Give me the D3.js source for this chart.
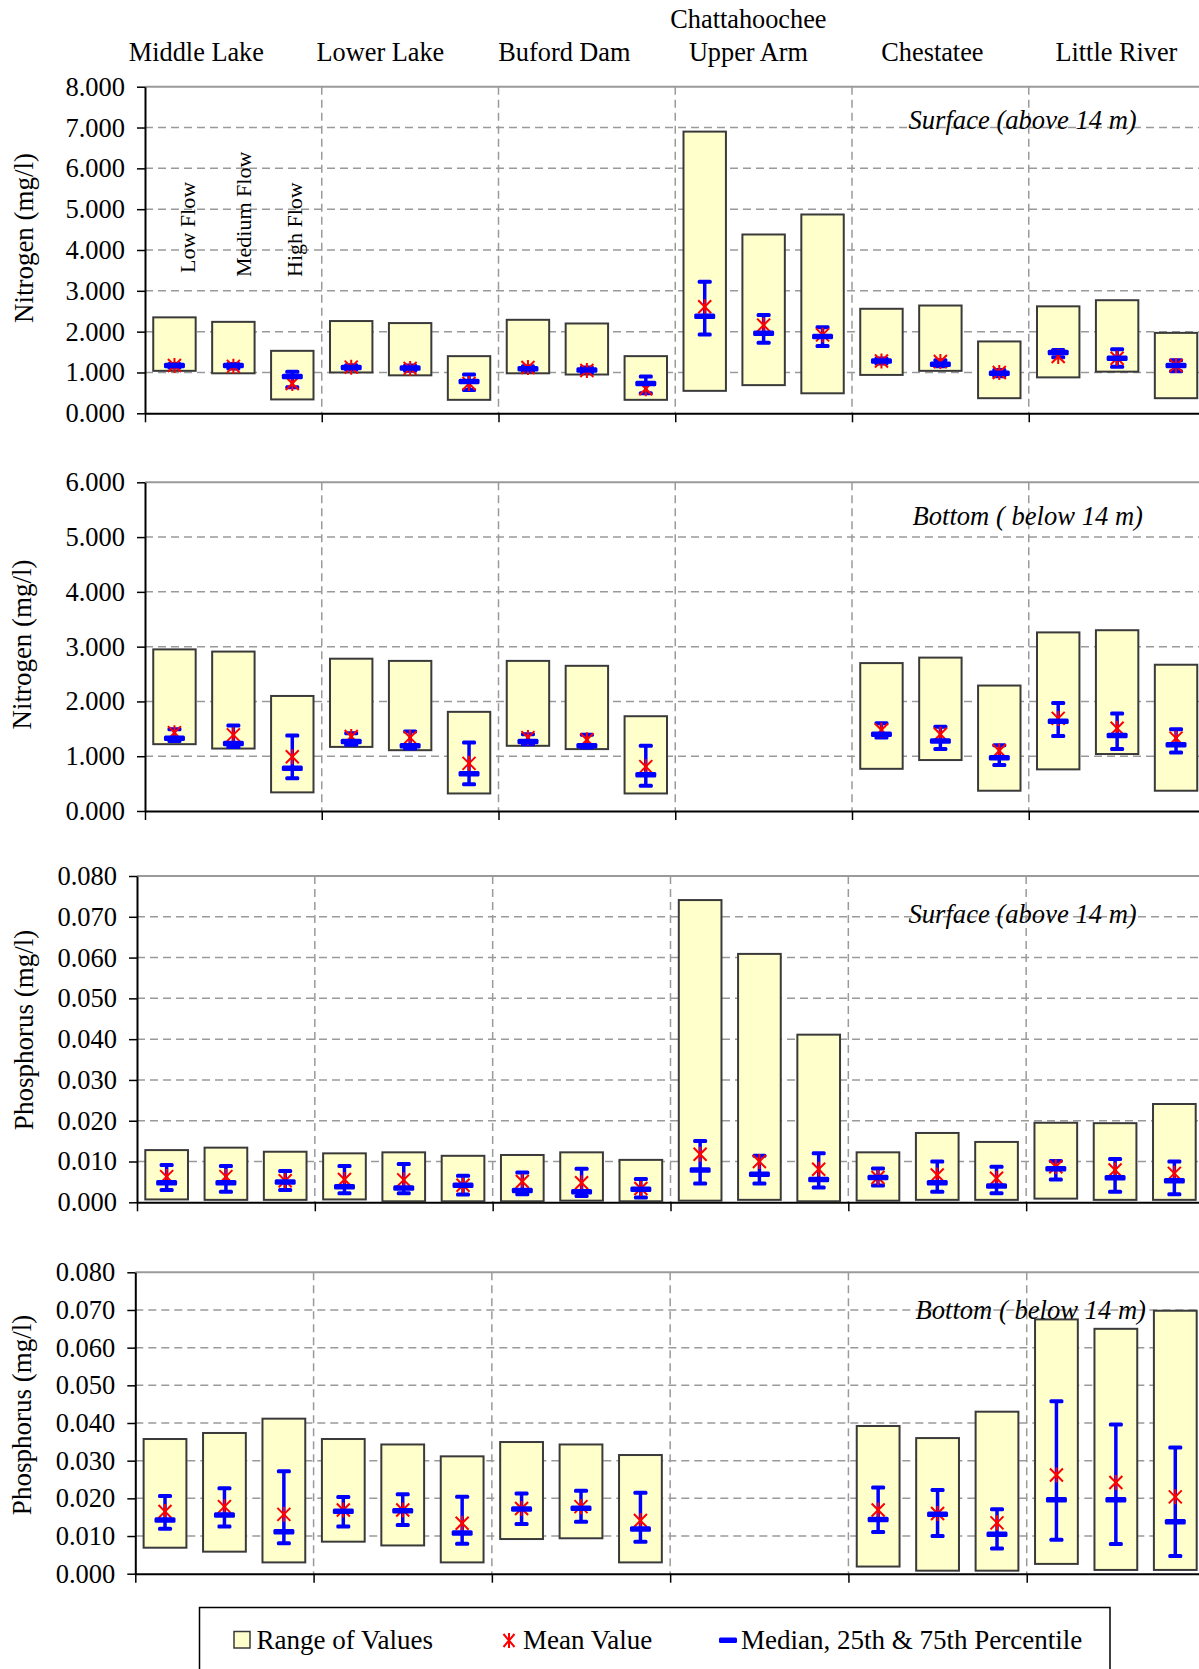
<!DOCTYPE html>
<html>
<head>
<meta charset="utf-8">
<script src="https://cdn.jsdelivr.net/npm/d3@7"></script>
<style>
  html, body { margin: 0; padding: 0; background: #fff; }
  svg { display: block; }
  text { font-family: "Liberation Serif", "Times New Roman", serif; fill: #000; }
</style>
</head>
<body>
<svg id="chart" width="1199" height="1669"></svg>
<script>
// Sampling sites and flow regimes (three bars per site)
const sites = ["Middle Lake", "Lower Lake", "Buford Dam", "Chattahoochee Upper Arm", "Chestatee", "Little River"];
const siteLabelLines = [["Middle Lake"], ["Lower Lake"], ["Buford Dam"], ["Chattahoochee", "Upper Arm"], ["Chestatee"], ["Little River"]];
const flows = ["Low Flow", "Medium Flow", "High Flow"];

// Y tick values
const nitrogenSurfaceTicks = [0, 1, 2, 3, 4, 5, 6, 7, 8];
const nitrogenBottomTicks = [0, 1, 2, 3, 4, 5, 6];
const phosphorusTicks = [0, 0.01, 0.02, 0.03, 0.04, 0.05, 0.06, 0.07, 0.08];

// Nitrogen, surface (mg/l) — order: site by site, Low / Medium / High flow
const nSurfMin    = [1.04, 0.98, 0.34, 1.00, 0.93, 0.33, 0.98, 0.95, 0.33, 0.55, 0.69, 0.49, 0.94, 1.04, 0.37, 0.88, 1.02, 0.37];
const nSurfMax    = [2.35, 2.24, 1.53, 2.26, 2.21, 1.40, 2.29, 2.20, 1.40, 6.90, 4.38, 4.87, 2.56, 2.64, 1.76, 2.62, 2.77, 1.97];
const nSurfP25    = [1.12, 1.10, 0.64, 1.07, 1.04, 0.57, 1.04, 1.00, 0.49, 1.93, 1.73, 1.65, 1.22, 1.15, 0.91, 1.37, 1.14, 1.03];
const nSurfMedian = [1.17, 1.17, 0.90, 1.12, 1.11, 0.78, 1.09, 1.06, 0.73, 2.38, 1.96, 1.88, 1.28, 1.20, 0.98, 1.49, 1.35, 1.17];
const nSurfP75    = [1.21, 1.21, 1.02, 1.18, 1.17, 0.95, 1.15, 1.12, 0.90, 3.22, 2.41, 2.11, 1.34, 1.30, 1.06, 1.55, 1.57, 1.30];
const nSurfMean   = [1.17, 1.15, 0.73, 1.13, 1.10, 0.73, 1.12, 1.05, 0.60, 2.61, 2.16, 1.92, 1.28, 1.27, 1.00, 1.39, 1.35, 1.17];

// Nitrogen, bottom (mg/l) — no bottom samples in the Chattahoochee upper arm
const nBotMin    = [1.22, 1.14, 0.34, 1.17, 1.11, 0.32, 1.19, 1.13, 0.32, null, null, null, 0.77, 0.93, 0.37, 0.76, 1.04, 0.37];
const nBotMax    = [2.95, 2.91, 2.10, 2.78, 2.74, 1.81, 2.74, 2.65, 1.73, null, null, null, 2.70, 2.80, 2.29, 3.26, 3.30, 2.67];
const nBotP25    = [1.28, 1.17, 0.60, 1.21, 1.14, 0.49, 1.22, 1.16, 0.46, null, null, null, 1.34, 1.13, 0.84, 1.37, 1.13, 1.07];
const nBotMedian = [1.33, 1.23, 0.78, 1.27, 1.19, 0.68, 1.27, 1.19, 0.66, null, null, null, 1.40, 1.28, 0.97, 1.64, 1.38, 1.21];
const nBotP75    = [1.49, 1.56, 1.38, 1.42, 1.45, 1.25, 1.40, 1.39, 1.19, null, null, null, 1.60, 1.54, 1.20, 1.97, 1.78, 1.49];
const nBotMean   = [1.43, 1.39, 0.99, 1.36, 1.34, 0.87, 1.34, 1.30, 0.81, null, null, null, 1.48, 1.40, 1.10, 1.69, 1.51, 1.33];

// Phosphorus, surface (mg/l)
const pSurfMin    = [0.0007, 0.0006, 0.0006, 0.0007, 0.00025, 0.00025, 0.00025, 0.0004, 0.00025, 0.0004, 0.0006, 0.00025, 0.0004, 0.0006, 0.0006, 0.0009, 0.0006, 0.0006];
const pSurfMax    = [0.0128, 0.0134, 0.0124, 0.0120, 0.01225, 0.0114, 0.0116, 0.01225, 0.0104, 0.0741, 0.0609, 0.0411, 0.01225, 0.0170, 0.0148, 0.0195, 0.0194, 0.0241];
const pSurfP25    = [0.0030, 0.0026, 0.0030, 0.0022, 0.0022, 0.0019, 0.0020, 0.00155, 0.0012, 0.0046, 0.0046, 0.0036, 0.0041, 0.0026, 0.0022, 0.0056, 0.0026, 0.0020];
const pSurfMedian = [0.0048, 0.0048, 0.0050, 0.0038, 0.0035, 0.0042, 0.0029, 0.0026, 0.0032, 0.0079, 0.0069, 0.0056, 0.0061, 0.0048, 0.0040, 0.0082, 0.0060, 0.0053];
const pSurfP75    = [0.00915, 0.0089, 0.0077, 0.0089, 0.0094, 0.0065, 0.0073, 0.0082, 0.0057, 0.0150, 0.0114, 0.0120, 0.0083, 0.0100, 0.0087, 0.0101, 0.0106, 0.0100];
const pSurfMean   = [0.0063, 0.0063, 0.0053, 0.0056, 0.0055, 0.0042, 0.0051, 0.0048, 0.0034, 0.0118, 0.0100, 0.0081, 0.0061, 0.0067, 0.0059, 0.0087, 0.0079, 0.0071];

// Phosphorus, bottom (mg/l)
const pBotMin    = [0.0069, 0.00585, 0.0030, 0.0085, 0.0075, 0.0030, 0.0092, 0.0094, 0.0030, null, null, null, 0.0019, 0.0008, 0.0008, 0.0026, 0.0010, 0.0010];
const pBotMax    = [0.03575, 0.03735, 0.04115, 0.03575, 0.0343, 0.03115, 0.03495, 0.0343, 0.0315, null, null, null, 0.0392, 0.0360, 0.0430, 0.0675, 0.0650, 0.0698];
const pBotP25    = [0.0119, 0.0125, 0.00805, 0.0125, 0.0129, 0.00795, 0.0132, 0.0138, 0.0085, null, null, null, 0.0111, 0.0100, 0.0067, 0.0090, 0.0079, 0.0047];
const pBotMedian = [0.01425, 0.0156, 0.01115, 0.0166, 0.0167, 0.0108, 0.0172, 0.01735, 0.01185, null, null, null, 0.0144, 0.01575, 0.01045, 0.0196, 0.0196, 0.0138];
const pBotP75    = [0.0206, 0.02265, 0.0272, 0.02035, 0.0211, 0.0204, 0.0213, 0.0220, 0.0215, null, null, null, 0.0229, 0.0222, 0.0171, 0.0458, 0.0396, 0.0335];
const pBotMean   = [0.0165, 0.0178, 0.01575, 0.0169, 0.0169, 0.0134, 0.0173, 0.0178, 0.0141, null, null, null, 0.0169, 0.0160, 0.0135, 0.0262, 0.0242, 0.0204];

// ---------------------------------------------------------------------------
const svg = d3.select("#chart");
const FILL = "#FFFFCC", EDGE = "#3a3a3a", BLUE = "#0000FF", RED = "#FF0000", GRID = "#9a9a9a";
const fmt = d3.format(".3f");

function asterisk(g, cx, cy, hw, hh) {
  g.append("path")
    .attr("d", `M${cx - hw},${cy - hh}L${cx + hw},${cy + hh}M${cx - hw},${cy + hh}L${cx + hw},${cy - hh}M${cx},${cy - hh - 1}L${cx},${cy + hh + 1}`)
    .attr("stroke", RED).attr("stroke-width", 2).attr("fill", "none");
}

function drawPanel(p) {
  const g = svg.append("g");
  const y = d3.scaleLinear().domain([0, p.ticks[p.ticks.length - 1]]).range([p.bottom, p.top]);
  const gx = d3.scaleBand().domain(sites).range([p.left, p.right]);
  const fx = d3.scaleBand().domain(flows).range([0, gx.bandwidth()]).paddingInner(0.28).paddingOuter(0.14);
  const edge = d3.scaleLinear().domain([0, sites.length]).range([p.left, p.right]);

  // horizontal dashed grid
  g.append("g").selectAll("line")
    .data(p.ticks.slice(1, -1)).join("line")
    .attr("x1", p.left).attr("x2", p.right)
    .attr("y1", d => y(d)).attr("y2", d => y(d))
    .attr("stroke", GRID).attr("stroke-width", 1.5).attr("stroke-dasharray", "8,5");
  // vertical dashed separators between sites
  g.append("g").selectAll("line")
    .data(d3.range(1, sites.length)).join("line")
    .attr("x1", d => edge(d)).attr("x2", d => edge(d))
    .attr("y1", p.top).attr("y2", p.bottom)
    .attr("stroke", GRID).attr("stroke-width", 1.5).attr("stroke-dasharray", "8,5");
  // plot top border
  g.append("line").attr("x1", p.left).attr("x2", p.right).attr("y1", p.top).attr("y2", p.top)
    .attr("stroke", GRID).attr("stroke-width", 2);

  // y axis
  const yAxis = g.append("g").attr("transform", `translate(${p.left},0)`)
    .call(d3.axisLeft(y).tickValues(p.ticks).tickFormat(fmt).tickSize(8).tickSizeOuter(0).tickPadding(12));
  yAxis.select(".domain").attr("stroke", "#000").attr("stroke-width", 2);
  yAxis.selectAll(".tick line").attr("stroke", "#000").attr("stroke-width", 1.5);
  yAxis.selectAll(".tick text").attr("font-size", 26.5).attr("font-family", "Liberation Serif, Times New Roman, serif").attr("fill", "#000");

  // x axis with ticks at site boundaries
  const xAxis = g.append("g").attr("transform", `translate(0,${p.bottom})`)
    .call(d3.axisBottom(edge).tickValues(d3.range(0, sites.length + 1)).tickFormat("").tickSize(9).tickSizeOuter(0));
  xAxis.select(".domain").attr("stroke", "#000").attr("stroke-width", 2);
  xAxis.selectAll(".tick line").attr("stroke", "#000").attr("stroke-width", 1.5);

  // rows
  const rows = d3.range(sites.length * flows.length).map(i => ({
    site: sites[Math.floor(i / flows.length)],
    flow: flows[i % flows.length],
    min: p.min[i], max: p.max[i], p25: p.p25[i], median: p.median[i], p75: p.p75[i], mean: p.mean[i]
  })).filter(d => d.max != null);
  const cx = d => gx(d.site) + fx(d.flow) + fx.bandwidth() / 2;

  // range bars
  g.append("g").selectAll("rect").data(rows).join("rect")
    .attr("x", d => gx(d.site) + fx(d.flow))
    .attr("width", fx.bandwidth())
    .attr("y", d => y(d.max))
    .attr("height", d => y(d.min) - y(d.max))
    .attr("fill", FILL).attr("stroke", EDGE).attr("stroke-width", 2);

  // percentile whiskers
  const wk = g.append("g");
  wk.selectAll("line").data(rows).join("line")
    .attr("x1", cx).attr("x2", cx)
    .attr("y1", d => y(d.p25)).attr("y2", d => y(d.p75))
    .attr("stroke", BLUE).attr("stroke-width", 3.5);
  rows.forEach(d => {
    [d.p25, d.p75].forEach(v => {
      wk.append("rect").attr("x", cx(d) - 7).attr("y", y(v) - 2).attr("width", 14).attr("height", 4)
        .attr("rx", 1.5).attr("fill", BLUE);
    });
  });

  // means
  const mg = g.append("g");
  rows.forEach(d => asterisk(mg, cx(d), y(d.mean), 6.5, 6.5));

  // medians
  g.append("g").selectAll("rect").data(rows).join("rect")
    .attr("x", d => cx(d) - 10.5).attr("y", d => y(d.median) - 2.75)
    .attr("width", 21).attr("height", 5.5).attr("rx", 1.5).attr("fill", BLUE);

  // axis title
  g.append("text")
    .attr("transform", `translate(${p.titleX},${p.titleY}) rotate(-90)`)
    .attr("text-anchor", "middle").attr("dominant-baseline", "central")
    .attr("font-size", 27).text(p.title);

  // depth note
  g.append("text").attr("x", p.noteX).attr("y", p.noteY)
    .attr("font-size", 26.6).attr("font-style", "italic").text(p.note);

  return { gx, fx, y };
}

const p1 = drawPanel({
  left: 145, right: 1205.5, top: 86.7, bottom: 413.3, ticks: nitrogenSurfaceTicks,
  min: nSurfMin, max: nSurfMax, p25: nSurfP25, median: nSurfMedian, p75: nSurfP75, mean: nSurfMean,
  title: "Nitrogen (mg/l)", titleX: 24, titleY: 238,
  note: "Surface (above 14 m)", noteX: 908.5, noteY: 128.5
});
drawPanel({
  left: 145, right: 1205.5, top: 482.3, bottom: 811, ticks: nitrogenBottomTicks,
  min: nBotMin, max: nBotMax, p25: nBotP25, median: nBotMedian, p75: nBotP75, mean: nBotMean,
  title: "Nitrogen (mg/l)", titleX: 21.5, titleY: 644.5,
  note: "Bottom ( below 14 m)", noteX: 912.5, noteY: 525
});
drawPanel({
  left: 137, right: 1204, top: 876, bottom: 1202.3, ticks: phosphorusTicks,
  min: pSurfMin, max: pSurfMax, p25: pSurfP25, median: pSurfMedian, p75: pSurfP75, mean: pSurfMean,
  title: "Phosphorus (mg/l)", titleX: 24, titleY: 1030,
  note: "Surface (above 14 m)", noteX: 908.5, noteY: 923
});
drawPanel({
  left: 135.3, right: 1205, top: 1272.3, bottom: 1573.7, ticks: phosphorusTicks,
  min: pBotMin, max: pBotMax, p25: pBotP25, median: pBotMedian, p75: pBotP75, mean: pBotMean,
  title: "Phosphorus (mg/l)", titleX: 22, titleY: 1415,
  note: "Bottom ( below 14 m)", noteX: 915.5, noteY: 1319
});

// site names across the top
const labels = svg.append("g").attr("font-size", 26.3).attr("text-anchor", "middle");
siteLabelLines.forEach((lines, i) => {
  const x = 196.4 + i * 184;
  lines.forEach((t, j) => {
    labels.append("text").attr("x", x).attr("y", 60.5 - (lines.length - 1 - j) * 33).text(t);
  });
});

// flow labels over the first site's bars
const flowOffsets = [20.5, 17.5, 10];
const flowStart = [273, 277, 277];
flows.forEach((f, i) => {
  const x = p1.gx(sites[0]) + p1.fx(f) + p1.fx.bandwidth() / 2 + flowOffsets[i];
  svg.append("text").attr("transform", `translate(${x},${flowStart[i]}) rotate(-90)`)
    .attr("font-size", 22).text(f);
});

// legend
const lg = svg.append("g");
lg.append("rect").attr("x", 199.5).attr("y", 1607.5).attr("width", 910.5).attr("height", 90)
  .attr("fill", "#fff").attr("stroke", "#000").attr("stroke-width", 1.5);
lg.append("rect").attr("x", 234).attr("y", 1631.5).attr("width", 16).attr("height", 16.5)
  .attr("fill", FILL).attr("stroke", EDGE).attr("stroke-width", 1.5);
lg.append("text").attr("x", 256.5).attr("y", 1648.5).attr("font-size", 27).text("Range of Values");
asterisk(lg, 509, 1640.5, 5.5, 6.5);
lg.append("text").attr("x", 523).attr("y", 1648.5).attr("font-size", 27).text("Mean Value");
lg.append("rect").attr("x", 719).attr("y", 1637.5).attr("width", 18).attr("height", 5.5).attr("rx", 1.5).attr("fill", BLUE);
lg.append("text").attr("x", 741).attr("y", 1648.5).attr("font-size", 27).text("Median, 25th & 75th Percentile");
</script>
</body>
</html>
